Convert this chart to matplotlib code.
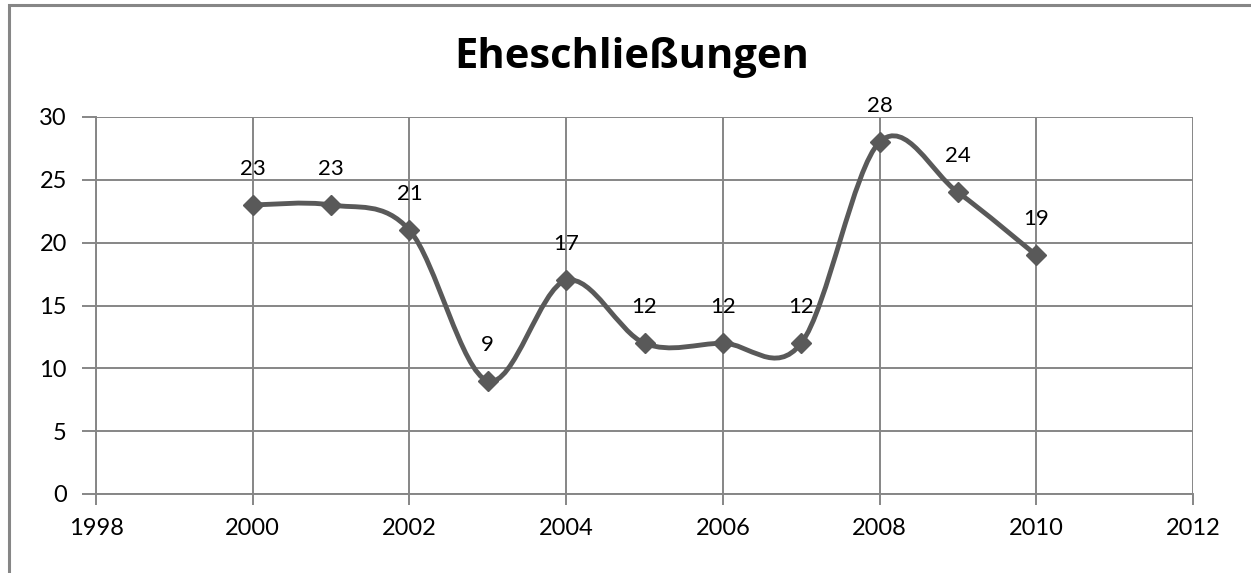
import matplotlib
matplotlib.use("Agg")
import matplotlib.pyplot as plt
from matplotlib.path import Path
from matplotlib.patches import PathPatch, Rectangle
import numpy as np

years = [2000, 2001, 2002, 2003, 2004, 2005, 2006, 2007, 2008, 2009, 2010]
values = [23, 23, 21, 9, 17, 12, 12, 12, 28, 24, 19]
title = "Eheschließungen"
x_ticks = [1998, 2000, 2002, 2004, 2006, 2008, 2010, 2012]
y_ticks = [0, 5, 10, 15, 20, 25, 30]

plt.rcParams['font.family'] = ['Lato', 'DejaVu Sans']

W, H = 1251, 573
fig = plt.figure(figsize=(W / 100, H / 100), dpi=100)
fig.patch.set_facecolor('white')

# outer chart frame (only top and left edges visible in the crop)
fig.patches.append(Rectangle((9 / W, -20 / H), (W + 40) / W, (H - 4.5 + 20) / H,
                             transform=fig.transFigure, fill=False,
                             edgecolor='#868686', linewidth=2.2))

ax = fig.add_axes([96 / W, (573 - 494) / H, (1193 - 96) / W, (494 - 117) / H])
grid_c = '#868686'
line_c = '#595959'

ax.set_xlim(1998, 2012)
ax.set_ylim(0, 30)
ax.set_xticks(x_ticks)
ax.set_yticks(y_ticks)
ax.grid(True, color=grid_c, linewidth=1.4)
ax.set_axisbelow(True)
for s in ['top', 'right']:
    ax.spines[s].set_visible(False)
for s in ['left', 'bottom']:
    ax.spines[s].set_color(grid_c)
    ax.spines[s].set_linewidth(1.4)
ax.tick_params(axis='both', colors=grid_c, labelcolor='black', labelsize=17,
               width=1.4)
ax.tick_params(axis='y', length=10, pad=11)
ax.tick_params(axis='x', length=8, pad=9)

# Smoothed line (Excel-style Catmull-Rom Bezier)
x = np.array(years, dtype=float)
y = np.array(values, dtype=float)
n = len(x)
verts = [(x[0], y[0])]
codes = [Path.MOVETO]
for i in range(n - 1):
    x0, y0 = (x[i - 1], y[i - 1]) if i > 0 else (x[i], y[i])
    x3, y3 = (x[i + 2], y[i + 2]) if i + 2 < n else (x[i + 1], y[i + 1])
    c1 = (x[i] + (x[i + 1] - x0) / 6, y[i] + (y[i + 1] - y0) / 6)
    c2 = (x[i + 1] - (x3 - x[i]) / 6, y[i + 1] - (y3 - y[i]) / 6)
    verts += [c1, c2, (x[i + 1], y[i + 1])]
    codes += [Path.CURVE4] * 3
ax.add_patch(PathPatch(Path(verts, codes), facecolor='none', edgecolor=line_c,
                       linewidth=3.5, capstyle='round', joinstyle='round', zorder=3))
ax.plot(years, values, linestyle='none', marker='D', markersize=10,
        color=line_c, zorder=4)

for xi, yi in zip(years, values):
    ax.annotate(str(yi), (xi, yi), xytext=(0, 26), textcoords='offset points',
                ha='center', va='center', fontsize=16, color='black',
                annotation_clip=False)

fig.text(632 / W, 1 - 58 / H, title, ha='center', va='center',
         fontsize=30, fontweight='bold', color='black',
         family=['Open Sans', 'DejaVu Sans'])

fig.savefig('out.png', dpi=100, facecolor='white')
